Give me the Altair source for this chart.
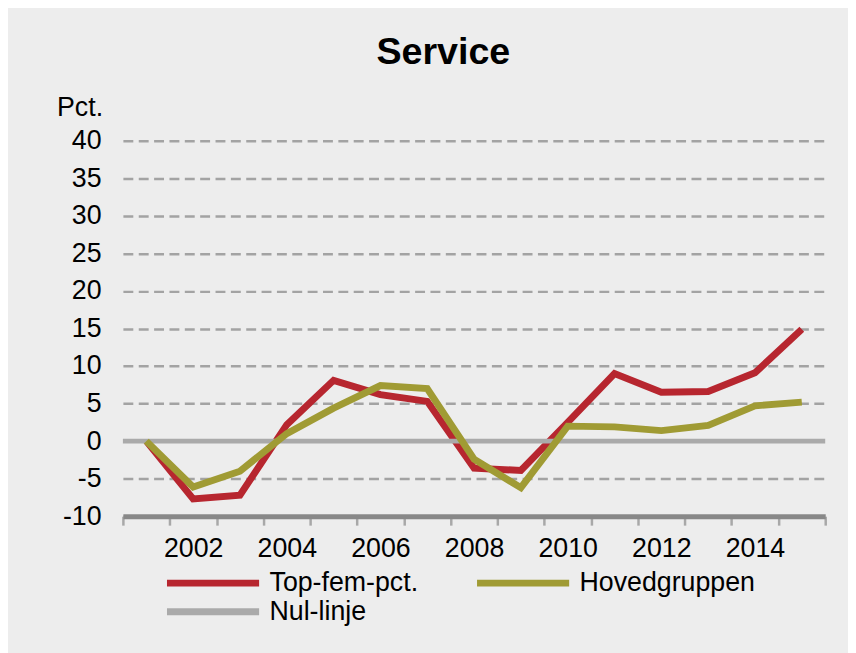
import altair as alt
import pandas as pd

years = [str(y) for y in range(2001, 2016)]
top_fem = [0.0, -7.7, -7.2, 2.2, 8.1, 6.2, 5.3, -3.6, -3.9, 2.5, 9.0, 6.5, 6.6, 9.1, 14.9]
hoved = [0.0, -6.1, -4.0, 1.0, 4.4, 7.4, 7.0, -2.4, -6.2, 2.0, 1.9, 1.4, 2.1, 4.7, 5.2]
series_names = ["Top-fem-pct.", "Hovedgruppen", "Nul-linje"]
series_colors = ["#b7262f", "#a09b34", "#aaaaaa"]
legend_order = ["Top-fem-pct.", "Nul-linje", "Hovedgruppen"]
y_ticks = list(range(-10, 45, 5))

df = pd.DataFrame(
    {
        "year": years * 2,
        "value": top_fem + hoved,
        "serie": [series_names[0]] * len(years) + [series_names[1]] * len(years),
    }
)
zero_df = pd.DataFrame({"serie": [series_names[2]], "value": [0]})

FONT = "Liberation Sans"

y_scale = alt.Scale(domain=[-10, 40], nice=False, zero=False)

color = alt.Color(
    "serie:N",
    scale=alt.Scale(domain=series_names, range=series_colors),
    legend=alt.Legend(
        title=None,
        values=legend_order,
        orient="none",
        legendX=41,
        legendY=432,
        columns=2,
        columnPadding=55,
        rowPadding=0,
        clipHeight=29,
        symbolType="stroke",
        symbolSize=8649,
        symbolStrokeWidth=7,
        labelOffset=7,
        labelFontSize=27,
        labelFont=FONT,
        labelColor="#000000",
        labelLimit=400,
        padding=0,
    ),
)

x_enc = alt.X(
    "year:O",
    scale=alt.Scale(type="band", paddingInner=0, paddingOuter=0, domain=years),
    axis=alt.Axis(
        title=None,
        labelAngle=0,
        labelExpr="toNumber(datum.value) % 2 == 0 ? datum.value : ''",
        labelOverlap=False,
        labelFontSize=27,
        labelFont=FONT,
        labelColor="#000000",
        labelPadding=11,
        tickBand="extent",
        tickColor="#a8a8a8",
        tickWidth=2.5,
        tickSize=9,
        domainColor="#888888",
        domainWidth=5,
        grid=False,
    ),
)

y_axis = alt.Axis(
    values=y_ticks,
    title="Pct.",
    titleAngle=0,
    titleAlign="left",
    titleBaseline="alphabetic",
    titleX=-67,
    titleY=-26,
    titleFontSize=27,
    titleFont=FONT,
    titleFontWeight="normal",
    titleColor="#000000",
    labelExpr="datum.value",
    labelOverlap=False,
    labelFontSize=27,
    labelFont=FONT,
    labelColor="#000000",
    labelPadding=22,
    domain=False,
    ticks=False,
    grid=True,
    gridDash=[10, 5.5],
    gridColor="#a3a3a3",
    gridWidth=2.5,
)

y_enc = alt.Y("value:Q", scale=y_scale, axis=y_axis)

zero = alt.Chart(zero_df).mark_rule(strokeWidth=5).encode(
    y=y_enc,
    color=color,
)

lines = (
    alt.Chart(df)
    .mark_line(strokeWidth=7, strokeJoin="miter", strokeCap="butt")
    .encode(
        x=x_enc,
        y=y_enc,
        color=color,
        order=alt.Order("year:O"),
        detail="serie:N",
    )
)

red = lines.transform_filter(alt.datum.serie == series_names[0])
olive = lines.transform_filter(alt.datum.serie == series_names[1])

chart = (
    alt.layer(red, zero, olive)
    .properties(
        width=709,
        height=379,
        title=alt.TitleParams(
            "Service",
            fontSize=38,
            fontWeight="bold",
            font=FONT,
            color="#000000",
            anchor="middle",
            dx=-31,
            baseline="alphabetic",
            offset=-8,
        ),
        autosize=alt.AutoSizeParams(type="none"),
        padding={"left": 116, "top": 131, "right": 23, "bottom": 135},
        background="#ededed",
    )
    .configure_view(stroke=None)
)

chart.save("out.html", embed_options={"renderer": "svg", "actions": False})
